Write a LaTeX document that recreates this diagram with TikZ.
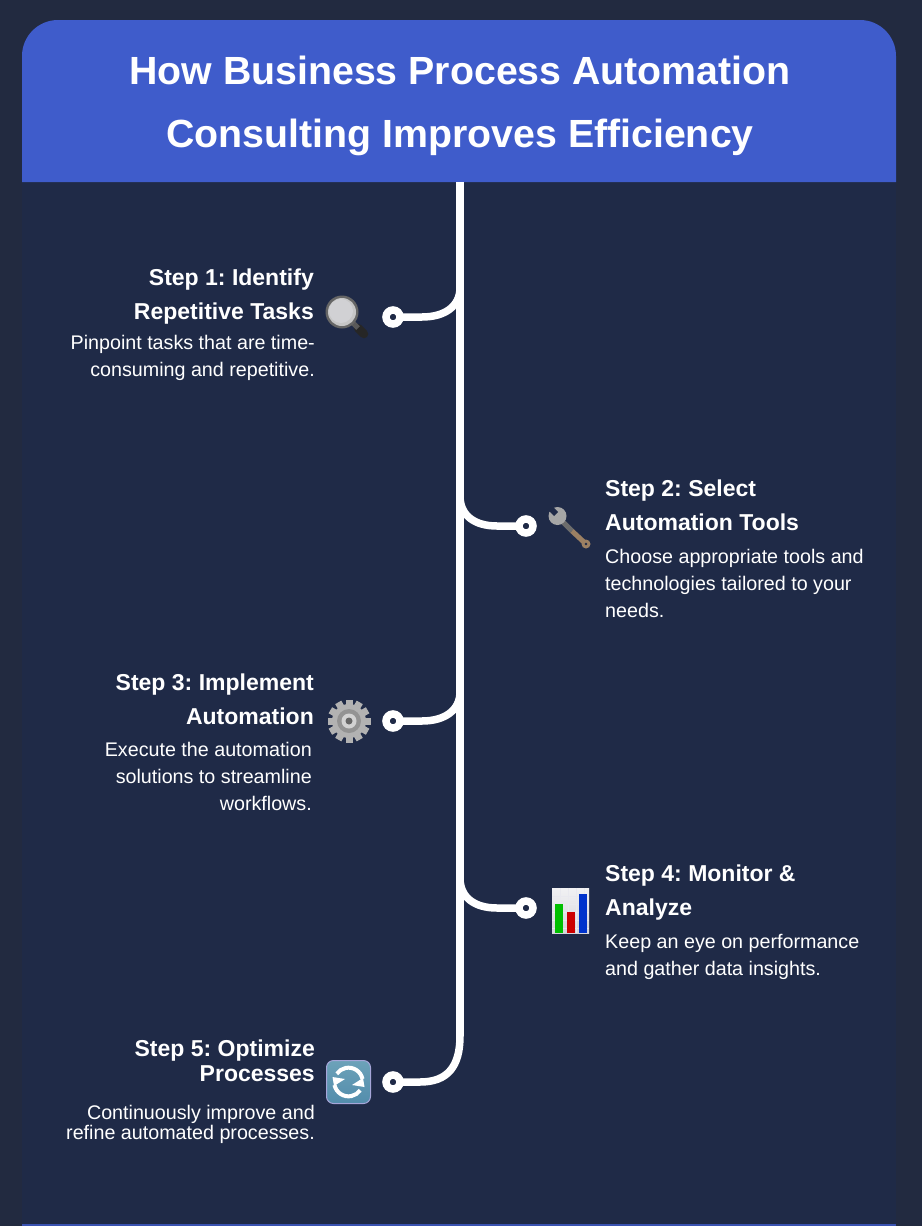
\documentclass[tikz,border=0pt]{standalone}
\usepackage{fontspec}
\setmainfont{Liberation Sans}
\frenchspacing
\definecolor{pagebg}{HTML}{222A40}
\definecolor{panelbg}{HTML}{1F2A47}
\definecolor{headbg}{HTML}{3F5CCB}
\tikzset{
  steptitle/.style={text=white,inner sep=0pt,font=\bfseries\fontsize{23}{33.5}\selectfont},
  stepbody/.style={text=white,inner sep=0pt,font=\fontsize{19.7}{27}\selectfont},
  headtitle/.style={text=white,inner sep=0pt,align=center,font=\bfseries\fontsize{39.3}{63}\selectfont},
  dotnode/.style={circle,draw=white,fill=panelbg,line width=7.5pt,minimum size=14pt,inner sep=0pt,outer sep=0pt},
  branch/.style={draw=white,line width=7.5pt},
  trunk/.style={draw=white,line width=8pt}
}
\begin{document}
\begin{tikzpicture}[x=1pt,y=-1pt]
\useasboundingbox (0,0) rectangle (922,1226);
\fill[pagebg] (0,0) rectangle (922,1226);
\fill[panelbg] (22,170) rectangle (896,1226);
\fill[headbg!80!panelbg] (22,1224) rectangle (896,1226);
\fill[headbg] (22,182) [rounded corners=36pt] -- (22,20) -- (896,20) [sharp corners] -- (896,182) -- cycle;
\node[headtitle] (headline) at (460,106) {How Business Process Automation\\Consulting Improves Efficiency};

% timeline
\coordinate (trunktop) at (460,182);
\coordinate (trunkend) at (460,1036);
\draw[trunk] (trunktop) -- (trunkend);

\node[dotnode] (dotone) at (393,317) {};
\node[dotnode] (dottwo) at (526,526) {};
\node[dotnode] (dotthree) at (393,721) {};
\node[dotnode] (dotfour) at (526,908) {};
\node[dotnode] (dotfive) at (393,1082) {};
\coordinate (joinone) at (460,288);
\coordinate (jointwo) at (460,496);
\coordinate (jointhree) at (460,692);
\coordinate (joinfour) at (460,878);
\draw[branch] (dotone) -- (422,317) .. controls (445,317) and (460,306) .. (joinone);
\draw[branch] (dottwo) -- (497,526) .. controls (474,526) and (460,515) .. (jointwo);
\draw[branch] (dotthree) -- (422,721) .. controls (445,721) and (460,710) .. (jointhree);
\draw[branch] (dotfour) -- (497,908) .. controls (474,908) and (460,897) .. (joinfour);
\draw[branch] (dotfive) -- (420,1082) .. controls (448,1082) and (460,1066) .. (trunkend);

% step texts
\node[steptitle,anchor=north east,align=right] (titleone) at (314,269) {Step 1: Identify\\Repetitive Tasks};
\node[stepbody,anchor=north east,align=right] (bodyone) at (315,335) {Pinpoint tasks that are time-\\consuming and repetitive.};
\node[steptitle,anchor=north west,align=left] (titletwo) at (605,480) {Step 2: Select\\Automation Tools};
\node[stepbody,anchor=north west,align=left] (bodytwo) at (605,549) {Choose appropriate tools and\\technologies tailored to your\\needs.};
\node[steptitle,anchor=north east,align=right] (titlethree) at (314,674) {Step 3: Implement\\Automation};
\node[stepbody,anchor=north east,align=right] (bodythree) at (312,742) {Execute the automation\\solutions to streamline\\workflows.};
\node[steptitle,anchor=north west,align=left] (titlefour) at (605,865) {Step 4: Monitor \&\\Analyze};
\node[stepbody,anchor=north west,align=left] (bodyfour) at (605,934) {Keep an eye on performance\\and gather data insights.};
\node[steptitle,anchor=north east,align=right,font=\bfseries\fontsize{23}{25}\selectfont] (titlefive) at (315,1040) {Step 5: Optimize\\Processes};
\node[stepbody,anchor=north east,align=right,font=\fontsize{19.7}{20}\selectfont] (bodyfive) at (315,1105) {Continuously improve and\\refine automated processes.};

% magnifier
\draw[line width=8.5pt,line cap=round,black!85] (358,328) -- (364,334);
\draw[line width=5pt,gray!70!black] (352,322) -- (358,328);
\fill[gray!80!black] (342,312) circle[radius=16.5];
\fill[gray!45] (342,312) circle[radius=14];
\fill[blue!4!gray!35] (341,311) circle[radius=12];

% wrench
\draw[line width=5pt,gray!85!black] (560,519) -- (572,531);
\draw[line width=5pt,brown!45!gray] (572,531) -- (586,544);
\fill[brown!45!gray] (586,544) circle[radius=4.5];
\fill[panelbg] (586,544) circle[radius=1.4];
\fill[gray!70] (557.5,516) circle[radius=9];
\fill[panelbg] (558,512) -- (554,516) -- (544,506) -- (548,502) -- cycle;

% gear
\foreach \ang in {0,30,...,330}
  \fill[gray!60,rotate around={\ang:(349,721)}] (345.5,699.5) rectangle (352.5,708);
\fill[gray!60] (349,721) circle[radius=17];
\fill[gray!85] (349,721) circle[radius=12];
\fill[gray!35] (349,721) circle[radius=7.5];
\fill[black!60] (349,721) circle[radius=3.5];

% chart
\shade[top color=blue!8!gray!10,bottom color=blue!8!gray!30] (552,888) rectangle (589,933);
\foreach \ypos in {896,904,...,928}
  \draw[blue!15!gray!15,line width=0.3pt] (552,\ypos) -- (589,\ypos);
\foreach \xpos in {560,568,...,584}
  \draw[blue!15!gray!15,line width=0.3pt] (\xpos,888) -- (\xpos,933);
\fill[green!75!black] (555,904) rectangle (563,933);
\fill[red!80!black] (567,912) rectangle (575,933);
\fill[blue!75!cyan!80!black] (579,894) rectangle (587,933);

% refresh
\shade[rounded corners=7pt,top color=blue!30!cyan!35!gray!85,bottom color=blue!35!cyan!35!gray,draw=gray!60!blue!50,line width=1pt] (326.5,1060.5) rectangle (370.5,1103.5);
\begin{scope}[shift={(348.5,1082)},x=1pt,y=1pt]
\foreach \turn in {0,180} {
  \begin{scope}[rotate=\turn]
  \draw[white,line width=4pt] (14,3) arc[start angle=12,end angle=145,radius=14.3];
  \fill[white] (-16,5) -- (-3.5,3) -- (-14.5,-4) -- cycle;
  \end{scope}
}
\end{scope}
\end{tikzpicture}
\end{document}
